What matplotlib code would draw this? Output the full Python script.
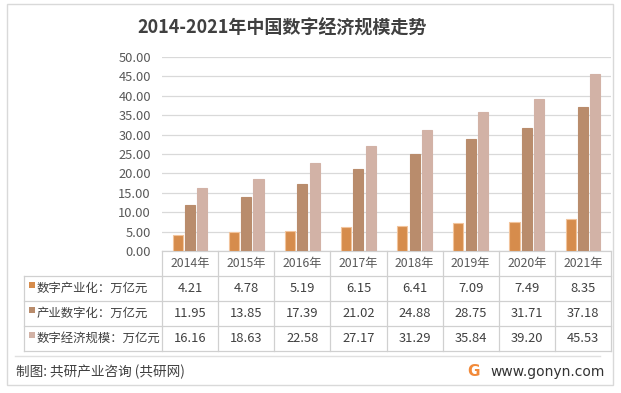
import matplotlib
matplotlib.use("Agg")
import matplotlib.pyplot as plt
import matplotlib.transforms as mtransforms
from matplotlib.lines import Line2D
from matplotlib.patches import Rectangle
import numpy as np

plt.rcParams['font.family'] = ['Noto Sans CJK SC', 'DejaVu Sans']

years = ["2014年", "2015年", "2016年", "2017年", "2018年", "2019年", "2020年", "2021年"]
series_names = ["数字产业化：万亿元", "产业数字化：万亿元", "数字经济规模：万亿元"]
industrialization = [4.21, 4.78, 5.19, 6.15, 6.41, 7.09, 7.49, 8.35]
digitalization = [11.95, 13.85, 17.39, 21.02, 24.88, 28.75, 31.71, 37.18]
economy_scale = [16.16, 18.63, 22.58, 27.17, 31.29, 35.84, 39.20, 45.53]
title = "2014-2021年中国数字经济规模走势"
source = "制图: 共研产业咨询 (共研网)"
site = "www.gonyn.com"

colors = ["#D68C4C", "#B98C6C", "#D2B2A6"]
edges = ["#F2C49C", "#B98C6C", "#D2B2A6"]

W, H = 621, 393
fig = plt.figure(figsize=(W / 100, H / 100), dpi=100)

def fx(px):
    return px / W

def fy(py):
    return 1 - py / H

# outer border
fig.add_artist(Rectangle((fx(7), fy(385)), fx(613) - fx(7), fy(4) - fy(385),
                         transform=fig.transFigure, fill=False, ec="#d9d9d9", lw=1.0))

ax_l, ax_r, ax_t, ax_b = 162, 611, 57, 251
ax = fig.add_axes([fx(ax_l), fy(ax_b), fx(ax_r) - fx(ax_l), fy(ax_t) - fy(ax_b)])

x = np.arange(len(years))
bw = 0.18
off = 0.22
all_series = [industrialization, digitalization, economy_scale]
for i, vals in enumerate(all_series):
    ax.bar(x + (i - 1) * off, vals, width=bw, color=colors[i], edgecolor=edges[i],
           linewidth=0.8, zorder=3)

ax.set_xlim(-0.5, len(years) - 0.5)
ax.set_ylim(0, 50)
ax.set_yticks(np.arange(0, 50.1, 5))
ax.set_yticklabels([f"{v:.2f}" for v in np.arange(0, 50.1, 5)], fontsize=9.3,
                   color="#595959")
ax.tick_params(axis='y', length=0, pad=8)
ax.set_xticks([])
ax.grid(axis='y', color="#d9d9d9", lw=0.9, zorder=0)
for s in ["top", "left", "right", "bottom"]:
    ax.spines[s].set_visible(False)
ax.set_facecolor("none")

# table
axh = ax_b - ax_t
def ay(py):
    return (ax_b - py) / axh

trans = mtransforms.blended_transform_factory(ax.transData, ax.transAxes)
line_c = "#d0d0d0"
rows_y = [251, 276, 301, 326, 351]
left_x_axes = (24 - ax_l) / (ax_r - ax_l)

ax.add_line(Line2D([0, 1], [ay(251), ay(251)], transform=ax.transAxes, color=line_c,
                   lw=0.9, clip_on=False))
for yy in rows_y[1:]:
    ax.add_line(Line2D([left_x_axes, 1], [ay(yy), ay(yy)], transform=ax.transAxes,
                       color=line_c, lw=0.9, clip_on=False))
for xb in np.arange(-0.5, len(years), 1.0):
    ax.add_line(Line2D([xb, xb], [ay(251), ay(351)], transform=trans, color=line_c,
                       lw=0.9, clip_on=False))
ax.add_line(Line2D([left_x_axes, left_x_axes], [ay(276), ay(351)], transform=ax.transAxes,
                   color=line_c, lw=0.9, clip_on=False))

for i, yl in enumerate(years):
    ax.text(x[i], ay(264), yl, transform=trans, ha="center", va="center",
            fontsize=8.8, color="#595959", clip_on=False)

fmt_rows = [industrialization, digitalization, economy_scale]
for r, vals in enumerate(fmt_rows):
    yc = ay(rows_y[r + 1] + 12.5)
    for i, v in enumerate(vals):
        ax.text(x[i], yc, f"{v:.2f}", transform=trans, ha="center", va="center",
                fontsize=9.3, color="#404040", clip_on=False)
    fig.text(fx(37), fy(rows_y[r + 1] + 12.5), series_names[r], ha="left", va="center",
             fontsize=8.9, color="#404040")
    fig.add_artist(Rectangle((fx(29), fy(rows_y[r + 1] + 12)), fx(6), fy(0) - fy(6),
                             transform=fig.transFigure, color=colors[r], lw=0))

fig.text(fx(282), fy(28), title, ha="center", va="center", fontsize=13,
         fontweight="bold", color="#404040")

fig.add_artist(Line2D([fx(15), fx(600)], [fy(356), fy(356)], transform=fig.transFigure,
                      color="#e0e0e0", lw=1.0))
fig.text(fx(16), fy(372), source, ha="left", va="center", fontsize=9.8, color="#404040")
fig.text(fx(490), fy(372), site, ha="left", va="center", fontsize=10, color="#333333",
         family=['DejaVu Sans'])
fig.text(fx(474), fy(372), "G", ha="center", va="center", fontsize=11, fontweight="bold",
         color="#F28A3A", family=['DejaVu Sans'])

fig.savefig("out.png", dpi=100)
